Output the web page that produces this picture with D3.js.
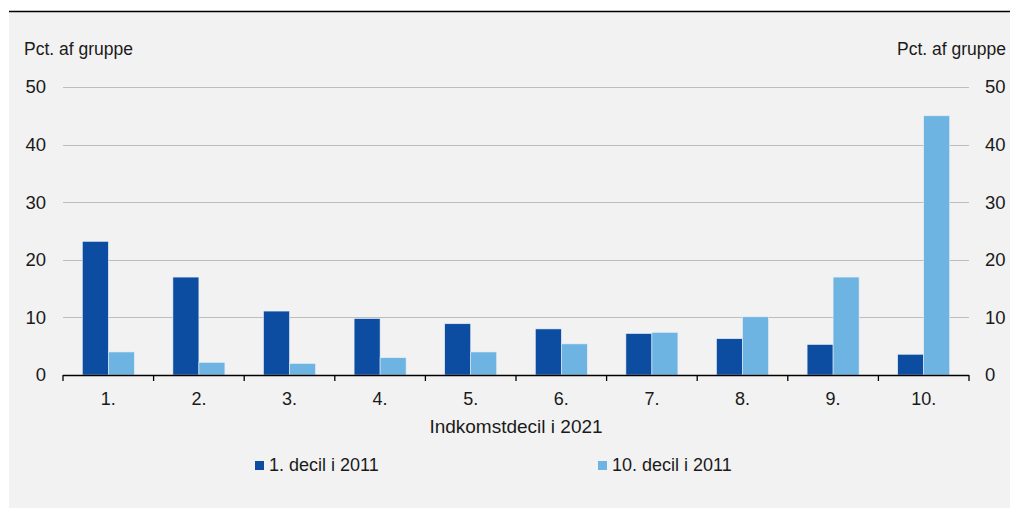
<!DOCTYPE html>
<html><head><meta charset="utf-8">
<script src="https://cdn.jsdelivr.net/npm/d3@7"></script>
<style>
html,body{margin:0;padding:0;background:#fff;}
svg{display:block;font-family:"Liberation Sans",Arial,sans-serif;}
</style></head>
<body><svg id="c" width="1010" height="508"></svg>
<script>
const categories = ["1.","2.","3.","4.","5.","6.","7.","8.","9.","10."];
const seriesNames = ["1. decil i 2011","10. decil i 2011"];
const decil1 = [23.2,17.0,11.1,9.8,8.9,8.0,7.2,6.3,5.3,3.6];
const decil10 = [4.0,2.2,2.0,3.0,4.0,5.4,7.4,10.1,17.0,45.0];
const yTicks = [0,10,20,30,40,50];
const colors = ["#0c4da2","#6db4e3"];

const svg = d3.select("#c");
svg.append("rect").attr("x",9).attr("y",11).attr("width",1001).attr("height",497).attr("fill","#f2f2f2");
svg.append("line").attr("x1",9).attr("x2",1010).attr("y1",11.5).attr("y2",11.5).attr("stroke","#000").attr("stroke-width",1.3);

const L=63,R=969,T=87,B=375;
const x = d3.scaleBand().domain(categories).range([L,R]).paddingInner(0).paddingOuter(0);
const y = d3.scaleLinear().domain([0,50]).range([B,T]);
const bw = 26;
const txt="#1a1a1a";

// gridlines
svg.append("g").selectAll("line").data(yTicks.filter(d=>d>0)).join("line")
  .attr("x1",L).attr("x2",R).attr("y1",d=>Math.round(y(d))+0.5).attr("y2",d=>Math.round(y(d))+0.5)
  .attr("stroke","#bdbdbd").attr("stroke-width",1);

// bars
const series=[decil1,decil10];
series.forEach((vals,si)=>{
  svg.append("g").selectAll("rect").data(vals).join("rect")
    .attr("x",(d,i)=>x(categories[i])+x.bandwidth()/2-bw+si*bw)
    .attr("y",d=>y(d))
    .attr("width",bw).attr("height",d=>B-y(d))
    .attr("fill",colors[si]).attr("stroke","#e8eef6").attr("stroke-width",0.6);
});

// x axis
const xa = svg.append("g").attr("transform",`translate(0,${B})`);
xa.append("line").attr("x1",L).attr("x2",R).attr("y1",0.5).attr("y2",0.5).attr("stroke","#000").attr("stroke-width",1.3);
const bounds = categories.map(c=>x(c)).concat([R]);
xa.selectAll("line.t").data(bounds).join("line").attr("class","t")
  .attr("x1",d=>d).attr("x2",d=>d).attr("y1",0).attr("y2",6).attr("stroke","#000").attr("stroke-width",1.3);
xa.selectAll("text").data(categories).join("text")
  .attr("x",d=>x(d)+x.bandwidth()/2).attr("y",30).attr("text-anchor","middle")
  .attr("font-size",18).attr("fill",txt).text(d=>d);

// y labels
const yl = d3.axisLeft(y).tickValues(yTicks).tickSize(0).tickPadding(0);
const gl = svg.append("g").attr("transform",`translate(46,0)`).call(yl);
gl.select(".domain").remove();
gl.selectAll("text").attr("font-size",18.5).attr("fill",txt).attr("font-family","Liberation Sans, Arial, sans-serif");
const yr = d3.axisRight(y).tickValues(yTicks).tickSize(0).tickPadding(0);
const gr = svg.append("g").attr("transform",`translate(985,0)`).call(yr);
gr.select(".domain").remove();
gr.selectAll("text").attr("font-size",18.5).attr("fill",txt).attr("font-family","Liberation Sans, Arial, sans-serif");

svg.append("text").attr("x",24).attr("y",55).attr("font-size",17.5).attr("fill",txt).text("Pct. af gruppe");
svg.append("text").attr("x",1006).attr("y",55).attr("text-anchor","end").attr("font-size",17.5).attr("fill",txt).text("Pct. af gruppe");

svg.append("text").attr("x",(L+R)/2).attr("y",433).attr("text-anchor","middle").attr("font-size",19).attr("fill",txt).text("Indkomstdecil i 2021");

// legend
const legX=[255,598];
seriesNames.forEach((n,i)=>{
  svg.append("rect").attr("x",legX[i]).attr("y",461).attr("width",9).attr("height",9).attr("fill",colors[i]);
  svg.append("text").attr("x",legX[i]+14).attr("y",471).attr("font-size",18).attr("fill",txt).text(n);
});
</script></body></html>
